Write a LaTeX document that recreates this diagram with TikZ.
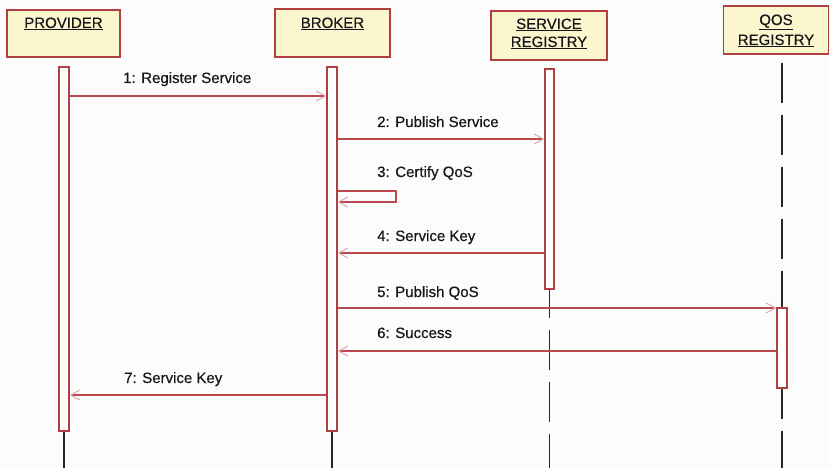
\documentclass[tikz,border=0pt]{standalone}
\usepackage{fontspec}
\setmainfont{Liberation Sans}
\newfontfamily\lblfont[FakeBold=0.4]{Liberation Sans}
\usetikzlibrary{arrows.meta}
\definecolor{boxred}{RGB}{176,62,66}
\definecolor{linered}{RGB}{186,72,76}
\definecolor{arrowpink}{RGB}{226,168,172}
\definecolor{boxfill}{RGB}{252,246,206}
\definecolor{bgc}{RGB}{252,252,253}
\definecolor{txt}{RGB}{22,22,26}
\begin{document}
\begin{tikzpicture}[x=1pt,y=-1pt,
  actor/.style={draw=boxred,line width=1.6pt,fill=boxfill,inner sep=0pt},
  title/.style={font=\lblfont\fontsize{15}{19}\selectfont,text=txt,inner sep=0pt,align=center},
  actbar/.style={draw=boxred,line width=1.4pt,fill=white,inner sep=0pt},
  msg/.style={draw=linered,line width=1.4pt,-{Straight Barb[length=9pt,width=10pt,color=arrowpink,line width=1pt]}},
  msglabel/.style={font=\lblfont\fontsize{15}{18}\selectfont,text=txt,inner sep=0pt,anchor=base west},
  life/.style={draw=black!85,line width=1.3pt},
  dlife/.style={draw=black!85,line width=1.3pt,dash pattern=on 40pt off 12pt}
]
\useasboundingbox[fill=bgc] (0,0) rectangle (830,468);

% actor boxes
\node[actor,minimum width=113pt,minimum height=47pt] (prov) at (63.5,33.5) {};
\node[actor,minimum width=115pt,minimum height=48pt] (brok) at (332.5,33) {};
\node[actor,minimum width=116pt,minimum height=49pt] (sreg) at (549,35.5) {};
\node[actor,minimum width=105pt,minimum height=48pt] (qreg) at (776,30) {};

\node[title,anchor=base] (provt) at (63.5,28) {\underline{PROVIDER}};
\node[title,anchor=base] (brokt) at (332.5,28) {\underline{BROKER}};
\node[title,anchor=base] (sregt1) at (549,29) {\underline{SERVICE}};
\node[title,anchor=base] (sregt2) at (549,47) {\underline{REGISTRY}};
\node[title,anchor=base] (qregt1) at (776,25) {\underline{QOS}};
\node[title,anchor=base] (qregt2) at (776,45) {\underline{REGISTRY}};

% activation bars
\node[actbar,minimum width=10pt,minimum height=364pt] (pbar) at (64,249) {};
\node[actbar,minimum width=10pt,minimum height=364pt] (bbar) at (332,249) {};
\node[actbar,minimum width=9pt,minimum height=220pt] (sbar) at (549.5,179) {};
\node[actbar,minimum width=10pt,minimum height=80pt] (qbar) at (782,348) {};

% lifelines
\coordinate (pend) at (64,468);
\coordinate (bend) at (332,468);
\coordinate (send) at (549.5,468);
\coordinate (qend) at (782,468);
\coordinate (qtop) at (782,63);
\draw[life] (pbar.south) -- (pend);
\draw[life] (bbar.south) -- (bend);
\draw[dlife,dash phase=12pt] (sbar.south) -- (send);
\draw[dlife] (qtop) -- (qbar.north);
\draw[dlife,dash phase=10pt] (qbar.south) -- (qend);

% message heights
\coordinate (y1) at (0,96);
\coordinate (y2) at (0,139);
\coordinate (y3a) at (0,191);
\coordinate (y3b) at (0,202);
\coordinate (y4) at (0,253);
\coordinate (y5) at (0,308);
\coordinate (y6) at (0,351);
\coordinate (y7) at (0,395);
\coordinate (selfx) at (396,0);

\draw[msg] (pbar.east |- y1) -- (bbar.west |- y1);
\draw[msg] (bbar.east |- y2) -- (sbar.west |- y2);
\draw[msg] (bbar.east |- y3a) -- (selfx |- y3a) -- (selfx |- y3b) -- (bbar.east |- y3b);
\draw[msg] (sbar.west |- y4) -- (bbar.east |- y4);
\draw[msg] (bbar.east |- y5) -- (qbar.west |- y5);
\draw[msg] (qbar.west |- y6) -- (bbar.east |- y6);
\draw[msg] (bbar.west |- y7) -- (pbar.east |- y7);

% labels
\node[msglabel] (l1) at (123,83) {1: Register Service};
\node[msglabel] (l2) at (377,127) {2: Publish Service};
\node[msglabel] (l3) at (377,177) {3: Certify QoS};
\node[msglabel] (l4) at (377,241) {4: Service Key};
\node[msglabel] (l5) at (377,297) {5: Publish QoS};
\node[msglabel] (l6) at (377,338) {6: Success};
\node[msglabel] (l7) at (124,383) {7: Service Key};
\end{tikzpicture}
\end{document}
